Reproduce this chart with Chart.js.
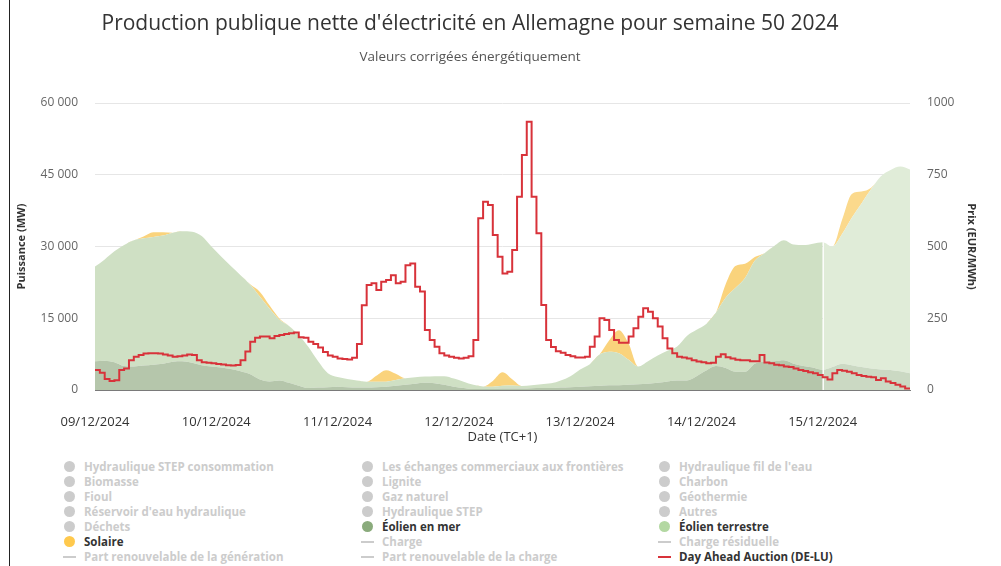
<!DOCTYPE html>
<html lang="fr">
<head>
<meta charset="utf-8">
<title>Production publique nette d'électricité en Allemagne - semaine 50 2024</title>
<script src="https://cdn.jsdelivr.net/npm/chart.js@4.4.1/dist/chart.umd.min.js"></script>
<style>
  html, body { margin: 0; padding: 0; background: #fff; }
  body { width: 1001px; height: 566px; position: relative; overflow: hidden; font-family: 'Open Sans', sans-serif; }
  #frame { position: absolute; left: 9px; top: 0; width: 1px; height: 566px; background: #222; }
  #chart { position: absolute; left: 0; top: 0; }
  #title { position: absolute; left: 0; top: 9px; width: 940px; text-align: center; font-size: 21px; line-height: 26px; color: #333; white-space: nowrap; }
  #subtitle { position: absolute; left: 0; top: 47px; width: 940px; text-align: center; font-size: 13.5px; line-height: 18px; color: #555; white-space: nowrap; }
  .item { position: absolute; height: 15px; line-height: 15px; font-size: 11.5px; font-weight: bold; white-space: nowrap; color: #333; }
  .item.off { color: #ccc; text-decoration: line-through; }
  .dot { position: absolute; left: 0; top: 2px; width: 11px; height: 11px; border-radius: 50%; }
  .dash { position: absolute; left: -1px; top: 7px; width: 13px; height: 2px; }
  .label { position: absolute; left: 20px; top: 0; }
</style>
</head>
<body>
<div id="frame"></div>
<canvas id="chart" width="1001" height="450"></canvas>
<div id="title">Production publique nette d'électricité en Allemagne pour semaine 50 2024</div>
<div id="subtitle">Valeurs corrigées énergétiquement</div>
<div id="legend"></div>
<script>
// x axis labels (one every 25 hours, as on the original)
const tickLabels = ['09/12/2024', '10/12/2024', '11/12/2024', '12/12/2024', '13/12/2024', '14/12/2024', '15/12/2024'];
const tickEvery = 25;

// production in MW, one value every 2 hours from 09/12 00:00 to 16/12 00:00
const offshore = [
  6000, 6100, 5800, 5000, 4900, 5100, 5300, 5500, 5900, 6000, 5700, 5200,
  4900, 4700, 4400, 3900, 3300, 2200, 1800, 2000, 1500, 900, 400, 500,
  600, 700, 600, 500, 500, 600, 700, 900, 1100, 1300, 1500, 1400,
  1100, 700, 400, 200, 200, 200, 300, 300, 300, 350, 400, 400,
  500, 600, 700, 800, 900, 1000, 1000, 1100, 1200, 1300, 1500, 1800,
  2000, 2000, 2900, 4100, 5000, 4600, 3800, 3800, 5500, 5900, 6000, 6200,
  5500, 5000, 4700, 4200, 4800, 5500, 5200, 4800, 4500, 4300, 4200, 3900,
  3500
];
const onshore = [
  19800, 21200, 23200, 25300, 26400, 26600, 26700, 26800, 27000, 27200, 27400, 27000,
  25100, 23200, 21500, 20100, 18700, 17300, 15200, 12700, 11900, 10600, 8600, 5500,
  2900, 2000, 1700, 1500, 1250, 1100, 1050, 1200, 1350, 1350, 1300, 1500,
  1800, 1700, 1350, 900, 550, 500, 600, 650, 550, 650, 800, 1000,
  1500, 2300, 3600, 4600, 6500, 7000, 6700, 5200, 3700, 4700, 5700, 6400,
  7100, 9300, 9700, 9700, 11200, 14700, 17500, 19600, 21500, 22700, 24100, 25100,
  24900, 25300, 25900, 26700, 25200, 27100, 30800, 34200, 37500, 40400, 41800, 42800,
  42600
];
const solar = [
  0, 0, 0, 0, 0, 400, 1000, 700, 0, 0, 0, 0,
  0, 0, 0, 0, 100, 1000, 650, 250, 0, 0, 0, 0,
  0, 0, 0, 0, 0, 1300, 2400, 1300, 0, 0, 0, 0,
  0, 0, 0, 0, 0, 1200, 2800, 1300, 0, 0, 0, 0,
  0, 0, 0, 0, 0, 2400, 4800, 3400, 0, 0, 0, 0,
  0, 0, 0, 0, 0, 2800, 4600, 3000, 800, 0, 0, 0,
  0, 0, 0, 0, 0, 3000, 5000, 2500, 300, 0, 0, 0,
  0
];

// Day Ahead Auction (DE-LU) in EUR/MWh, hourly
const price = [
  70, 60, 38, 31, 34, 70, 75, 104, 116, 122, 127, 128, 128, 127, 124, 120, 116, 118, 120, 124, 122, 104, 97, 95,
  93, 91, 89, 86, 85, 87, 104, 134, 168, 182, 186, 186, 180, 188, 192, 195, 198, 200, 184, 182, 168, 160, 148, 132,
  120, 116, 110, 108, 106, 112, 160, 295, 366, 372, 348, 377, 383, 400, 372, 377, 435, 441, 360, 343, 209, 174, 151, 128,
  120, 116, 112, 110, 112, 118, 174, 598, 656, 645, 540, 464, 406, 412, 488, 673, 819, 935, 673, 546, 296, 174, 150, 135,
  130, 122, 118, 113, 113, 116, 151, 186, 250, 244, 209, 174, 165, 165, 186, 215, 255, 285, 273, 250, 221, 180, 145, 128,
  116, 113, 110, 104, 99, 97, 93, 95, 116, 125, 114, 110, 105, 104, 104, 100, 100, 122, 96, 93, 88, 86, 82, 80,
  75, 70, 66, 62, 58, 52, 44, 37, 58, 70, 67, 64, 58, 52, 49, 46, 44, 35, 41, 30, 24, 18, 12, 5
];

// from this hour on the areas are drawn lighter
const lightFrom = 150;

const areaHours = offshore.map((_, i) => i * 2);
const toPoints = arr => arr.map((v, i) => ({ x: areaHours[i], y: v }));
const priceData = price.map((v, i) => ({ x: i, y: v }));
priceData.push({ x: price.length, y: price[price.length - 1] });

const fmt = v => String(v).replace(/\B(?=(\d{3})+(?!\d))/g, '\u00a0');
const shade = (normal, light) => c => (c.p0.parsed.x >= lightFrom ? light : normal);

Chart.defaults.font.family = "'Open Sans', sans-serif";

function area(label, data, fill, normal, light) {
  return {
    label: label,
    data: toPoints(data),
    yAxisID: 'y',
    fill: fill,
    backgroundColor: normal,
    borderWidth: 0,
    pointRadius: 0,
    cubicInterpolationMode: 'monotone',
    order: 1,
    segment: { backgroundColor: shade(normal, light) }
  };
}

// thin white line where the lighter part starts
const splitLine = {
  id: 'splitLine',
  beforeDatasetDraw(chart, args) {
    if (args.index !== 3) return;
    const i = areaHours.indexOf(lightFrom);
    const x = chart.scales.x.getPixelForValue(lightFrom);
    const top = chart.scales.y.getPixelForValue(offshore[i] + onshore[i] + solar[i]);
    const c = chart.ctx;
    c.save();
    c.strokeStyle = 'rgba(255,255,255,0.9)';
    c.lineWidth = 1;
    c.beginPath();
    c.moveTo(Math.round(x) + 0.5, top);
    c.lineTo(Math.round(x) + 0.5, chart.chartArea.bottom);
    c.stroke();
    c.restore();
  }
};

const chart = new Chart(document.getElementById('chart'), {
  type: 'line',
  data: {
    datasets: [
      area('Éolien en mer', offshore, 'origin', '#b5c6ab', '#cbd9c3'),
      area('Éolien terrestre', onshore, '-1', '#cfe0c4', '#e0ecd8'),
      area('Solaire', solar, '-1', '#fad37c', '#fbd98c'),
      {
        label: 'Day Ahead Auction (DE-LU)',
        data: priceData,
        yAxisID: 'y1',
        stepped: true,
        borderColor: '#d8323a',
        borderWidth: 2,
        pointRadius: 0,
        fill: false,
        order: 0
      }
    ]
  },
  options: {
    responsive: false,
    animation: false,
    events: [],
    devicePixelRatio: 1,
    layout: { padding: { top: 103 } },
    plugins: {
      legend: { display: false },
      tooltip: { enabled: false }
    },
    scales: {
      x: {
        type: 'linear',
        min: 0,
        max: 168,
        grid: { display: false },
        border: { display: true, color: '#7a7a7a', width: 1 },
        afterBuildTicks: s => { s.ticks = tickLabels.map((_, i) => ({ value: i * tickEvery })); },
        afterFit: s => { s.height = 60; },
        ticks: {
          autoSkip: false,
          maxRotation: 0,
          padding: 16,
          color: '#333',
          font: { size: 13 },
          callback: (v, i) => tickLabels[i]
        },
        title: {
          display: true,
          text: 'Date (TC+1)',
          color: '#333',
          font: { size: 13 },
          padding: { top: 0, bottom: 5 }
        }
      },
      y: {
        position: 'left',
        stacked: true,
        min: 0,
        max: 60000,
        afterFit: s => { s.width = 95; },
        grid: { color: '#e6e6e6', drawTicks: false },
        border: { display: false },
        ticks: { stepSize: 15000, padding: 17, color: '#666', font: { size: 12 }, callback: v => fmt(v) },
        title: {
          display: true,
          text: 'Puissance (MW)',
          color: '#333',
          font: { size: 11, weight: 'bold' },
          padding: { top: 15, bottom: 0 }
        }
      },
      y1: {
        position: 'right',
        min: 0,
        max: 1000,
        afterFit: s => { s.width = 91; },
        grid: { display: false, drawTicks: false },
        border: { display: false },
        ticks: { stepSize: 250, padding: 17, color: '#666', font: { size: 12 }, callback: v => String(v) },
        title: {
          display: true,
          text: 'Prix (EUR/MWh)',
          color: '#333',
          font: { size: 11, weight: 'bold' },
          padding: { top: 23, bottom: 0 }
        }
      }
    }
  },
  plugins: [splitLine]
});

// legend, laid out like the original (3 columns, greyed series are switched off)
const legendEntries = [
  ['Hydraulique STEP consommation', 'dot', null],
  ['Les échanges commerciaux aux frontières', 'dot', null],
  ["Hydraulique fil de l'eau", 'dot', null],
  ['Biomasse', 'dot', null],
  ['Lignite', 'dot', null],
  ['Charbon', 'dot', null],
  ['Fioul', 'dot', null],
  ['Gaz naturel', 'dot', null],
  ['Géothermie', 'dot', null],
  ["Réservoir d'eau hydraulique", 'dot', null],
  ['Hydraulique STEP', 'dot', null],
  ['Autres', 'dot', null],
  ['Déchets', 'dot', null],
  ['Éolien en mer', 'dot', '#8aab7c'],
  ['Éolien terrestre', 'dot', '#b3d8a2'],
  ['Solaire', 'dot', '#ffc94d'],
  ['Charge', 'dash', null],
  ['Charge résiduelle', 'dash', null],
  ['Part renouvelable de la génération', 'dash', null],
  ['Part renouvelable de la charge', 'dash', null],
  ['Day Ahead Auction (DE-LU)', 'dash', '#d8323a']
];
const legendCols = [64, 362, 659];
const legendTop = 459;
const legendRow = 15;

const legend = document.getElementById('legend');
legendEntries.forEach(([name, kind, color], i) => {
  const item = document.createElement('div');
  item.className = 'item' + (color ? '' : ' off');
  item.style.left = legendCols[i % 3] + 'px';
  item.style.top = (legendTop + Math.floor(i / 3) * legendRow) + 'px';
  const mark = document.createElement('span');
  mark.className = kind;
  mark.style.background = color || '#cccccc';
  const text = document.createElement('span');
  text.className = 'label';
  text.textContent = name;
  item.appendChild(mark);
  item.appendChild(text);
  legend.appendChild(item);
});
</script>
</body>
</html>
